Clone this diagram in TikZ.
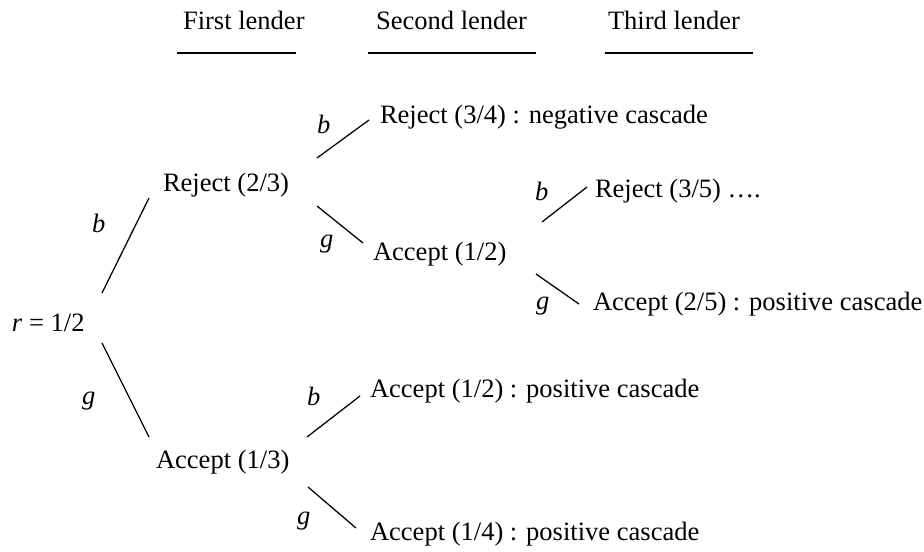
\documentclass[tikz,border=0pt]{standalone}
\usepackage{fontspec}
\setmainfont{Liberation Serif}
\begin{document}
\begin{tikzpicture}[x=0.75pt,y=-0.75pt,
  txt/.style={anchor=base west,inner sep=0pt,outer sep=0pt,font=\fontsize{19.9}{24}\selectfont},
  lab/.style={txt,font=\fontsize{19.9}{24}\selectfont\itshape},
  edge/.style={line width=0.95pt,line cap=butt},
  rule/.style={line width=1.1pt}]
\useasboundingbox (0,0) rectangle (924,551);
% headers
\node[txt] (h1) at (183,29) {First lender};
\node[txt] (h2) at (376,29) {Second lender};
\node[txt] (h3) at (608,29) {Third lender};
\draw[rule] ([shift={(-6,24)}]h1.base west) -- ([shift={(113,24)}]h1.base west);
\draw[rule] ([shift={(-8,24)}]h2.base west) -- ([shift={(160,24)}]h2.base west);
\draw[rule] ([shift={(-3,24)}]h3.base west) -- ([shift={(145,24)}]h3.base west);
% nodes
\node[txt] (r) at (12,331) {\textit{r} = 1/2};
\node[txt] (R23) at (163,191) {Reject (2/3)};
\node[txt] (A13) at (156,468) {Accept (1/3)};
\node[txt] (R34) at (380,123) {Reject (3/4) : negative cascade};
\node[txt] (A12) at (373,260) {Accept (1/2)};
\node[txt] (R35) at (595,197) {Reject (3/5) ….};
\node[txt] (A25) at (593,310) {Accept (2/5) : positive cascade};
\node[txt] (A12p) at (370,397) {Accept (1/2) : positive cascade};
\node[txt] (A14) at (370,540) {Accept (1/4) : positive cascade};
% connectors
\draw[edge] ([shift={(90,-38)}]r.base west) -- ([shift={(-14,7)}]R23.base west);
\draw[edge] ([shift={(90,12)}]r.base west) -- ([shift={(-7,-31)}]A13.base west);
\draw[edge] ([shift={(154,-33)}]R23.base west) -- ([shift={(-11,-3)}]R34.base west);
\draw[edge] ([shift={(154,15)}]R23.base west) -- ([shift={(-10,-17)}]A12.base west);
\draw[edge] ([shift={(169,-38)}]A12.base west) -- ([shift={(-8,-10)}]R35.base west);
\draw[edge] ([shift={(163,14)}]A12.base west) -- ([shift={(-14,-6)}]A25.base west);
\draw[edge] ([shift={(151,-31)}]A13.base west) -- ([shift={(-10,-1)}]A12p.base west);
\draw[edge] ([shift={(152,19)}]A13.base west) -- ([shift={(-14,-12)}]A14.base west);
% branch labels
\node[lab] (l1) at (92,232) {b};
\node[lab] (l2) at (82,404) {g};
\node[lab] (l3) at (317,133) {b};
\node[lab] (l4) at (320,247) {g};
\node[lab] (l5) at (535,200) {b};
\node[lab] (l6) at (536,309) {g};
\node[lab] (l7) at (307,405) {b};
\node[lab] (l8) at (297,524) {g};
\end{tikzpicture}
\end{document}
